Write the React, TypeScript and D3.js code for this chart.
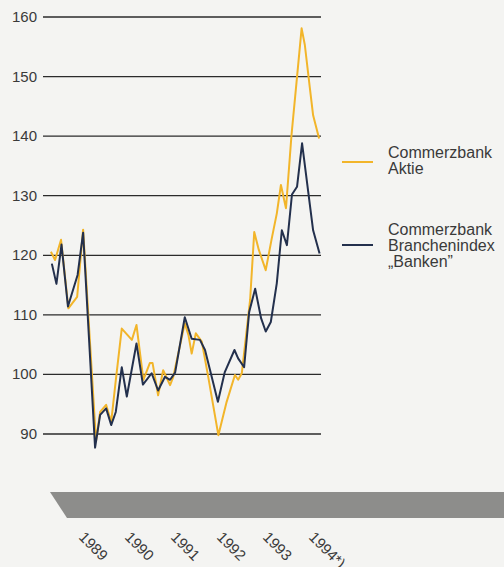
import React, { useRef, useEffect } from "react";
import * as d3 from "d3";

// Commerzbank Aktie (yellow), time as decimal year
const aktieDates = [
  1989.02, 1989.11, 1989.24, 1989.4, 1989.59, 1989.72, 1990.0, 1990.09, 1990.22,
  1990.33, 1990.43, 1990.56, 1990.78, 1990.88, 1991.03, 1991.17, 1991.23, 1991.35,
  1991.46, 1991.61, 1991.68, 1991.93, 1992.01, 1992.08, 1992.17, 1992.3, 1992.44,
  1992.66, 1992.84, 1993.02, 1993.09, 1993.17, 1993.35, 1993.44, 1993.54, 1993.69,
  1993.82, 1993.93, 1994.02, 1994.13, 1994.25, 1994.36, 1994.47, 1994.54, 1994.65,
  1994.72, 1994.85,
];
const aktieValues = [
  120.6, 119.2, 122.6, 111.1, 113.0, 124.3, 88.8, 93.7, 94.9,
  92.0, 99.0, 107.7, 105.8, 108.3, 99.1, 101.9, 101.9, 96.5,
  100.7, 98.2, 99.6, 108.6, 106.6, 103.5, 106.9, 105.5, 99.6,
  89.8, 95.4, 99.9, 99.1, 100.2, 112.5, 123.9, 120.9, 117.5,
  122.8, 127.0, 131.8, 127.9, 140.2, 149.1, 158.1, 155.3, 148.0,
  143.5, 139.6,
];

// Commerzbank Branchenindex "Banken" (dark blue)
const bankenDates = [
  1989.04, 1989.14, 1989.25, 1989.39, 1989.6, 1989.72, 1989.98, 1990.09, 1990.22,
  1990.33, 1990.43, 1990.56, 1990.67, 1990.88, 1991.02, 1991.21, 1991.35, 1991.5,
  1991.61, 1991.72, 1991.93, 1992.08, 1992.26, 1992.37, 1992.48, 1992.65, 1992.8,
  1993.01, 1993.09, 1993.22, 1993.33, 1993.46, 1993.59, 1993.69, 1993.8, 1993.93,
  1994.04, 1994.15, 1994.26, 1994.37, 1994.48, 1994.72, 1994.86,
];
const bankenValues = [
  118.6, 115.2, 121.8, 111.4, 116.7, 123.8, 87.7, 93.2, 94.3,
  91.5, 93.7, 101.2, 96.3, 105.2, 98.3, 100.2, 97.3, 99.6,
  99.1, 100.3, 109.6, 106.0, 105.8, 104.1, 100.7, 95.4, 100.4,
  104.1, 102.7, 101.2, 110.5, 114.4, 109.4, 107.2, 108.8, 115.3,
  124.2, 121.7, 130.2, 131.5, 138.8, 124.2, 120.3,
];

const yTicks = [90, 100, 110, 120, 130, 140, 150, 160];
const yearLabels = ["1989", "1990", "1991", "1992", "1993", "1994*)"];
const legendAktie = ["Commerzbank", "Aktie"];
const legendBanken = ["Commerzbank", "Branchenindex", "\u201EBanken\u201D"];

const YELLOW = "#f2b52a";
const BLUE = "#23304d";
const TEXT = "#3a3a3a";
const FONT = "'Liberation Sans', Arial, Helvetica, sans-serif";

export default function App() {
  const svgRef = useRef<SVGSVGElement | null>(null);

  useEffect(() => {
    const W = 504;
    const H = 567;

    const svg = d3.select(svgRef.current);
    svg.selectAll("*").remove();
    svg.attr("width", W).attr("height", H);

    svg.append("rect").attr("width", W).attr("height", H).attr("fill", "#f4f4f2");

    // scales
    const x = d3.scaleLinear().domain([1989, 1995]).range([50, 326]);
    const y = d3.scaleLinear().domain([90, 160]).range([434, 17]);

    // grid lines + labels
    const grid = svg.append("g");
    grid
      .selectAll("line")
      .data(yTicks)
      .join("line")
      .attr("x1", 43)
      .attr("x2", 321)
      .attr("y1", (d) => y(d))
      .attr("y2", (d) => y(d))
      .attr("stroke", "#2b2b2b")
      .attr("stroke-width", 1.3);

    grid
      .selectAll("text")
      .data(yTicks)
      .join("text")
      .attr("x", 37)
      .attr("y", (d) => y(d) + 5)
      .attr("text-anchor", "end")
      .attr("fill", TEXT)
      .style("font-family", FONT)
      .style("font-size", "15px")
      .text((d) => d);

    // lines
    const lineGen = d3
      .line<[number, number]>()
      .x((d) => x(d[0]))
      .y((d) => y(d[1]));

    const aktie = aktieDates.map((t, i) => [t, aktieValues[i]] as [number, number]);
    const banken = bankenDates.map((t, i) => [t, bankenValues[i]] as [number, number]);

    svg
      .append("path")
      .datum(aktie)
      .attr("fill", "none")
      .attr("stroke", YELLOW)
      .attr("stroke-width", 2)
      .attr("stroke-linejoin", "round")
      .attr("d", lineGen);

    svg
      .append("path")
      .datum(banken)
      .attr("fill", "none")
      .attr("stroke", BLUE)
      .attr("stroke-width", 2)
      .attr("stroke-linejoin", "round")
      .attr("d", lineGen);

    // slanted grey bar under the chart
    const x0 = x(1989);
    svg
      .append("path")
      .attr("d", `M${x0},492 L${W + 2},492 L${W + 2},518 L${x0 + 17},518 Z`)
      .attr("fill", "#8d8d8b");

    // rotated year labels
    svg
      .append("g")
      .selectAll("text")
      .data(yearLabels)
      .join("text")
      .attr("transform", (d, i) => `translate(${x(1989 + i + 0.5) + 5},538) rotate(45)`)
      .attr("fill", TEXT)
      .style("font-family", FONT)
      .style("font-size", "15px")
      .text((d) => d);

    // legend
    const legend = svg.append("g").style("font-family", FONT).style("font-size", "16px");
    legend
      .append("line")
      .attr("x1", 342)
      .attr("x2", 373)
      .attr("y1", 162)
      .attr("y2", 162)
      .attr("stroke", YELLOW)
      .attr("stroke-width", 2);
    legend
      .append("g")
      .selectAll("text")
      .data(legendAktie)
      .join("text")
      .attr("x", 388)
      .attr("y", (d, i) => 158 + i * 16)
      .attr("fill", TEXT)
      .text((d) => d);

    legend
      .append("line")
      .attr("x1", 342)
      .attr("x2", 373)
      .attr("y1", 245)
      .attr("y2", 245)
      .attr("stroke", BLUE)
      .attr("stroke-width", 2);
    legend
      .append("g")
      .selectAll("text")
      .data(legendBanken)
      .join("text")
      .attr("x", 388)
      .attr("y", (d, i) => 235 + i * 16)
      .attr("fill", TEXT)
      .text((d) => d);
  }, []);

  return (
    <div style={{ position: "absolute", left: 0, top: 0 }}>
      <svg ref={svgRef} style={{ display: "block" }} />
    </div>
  );
}
